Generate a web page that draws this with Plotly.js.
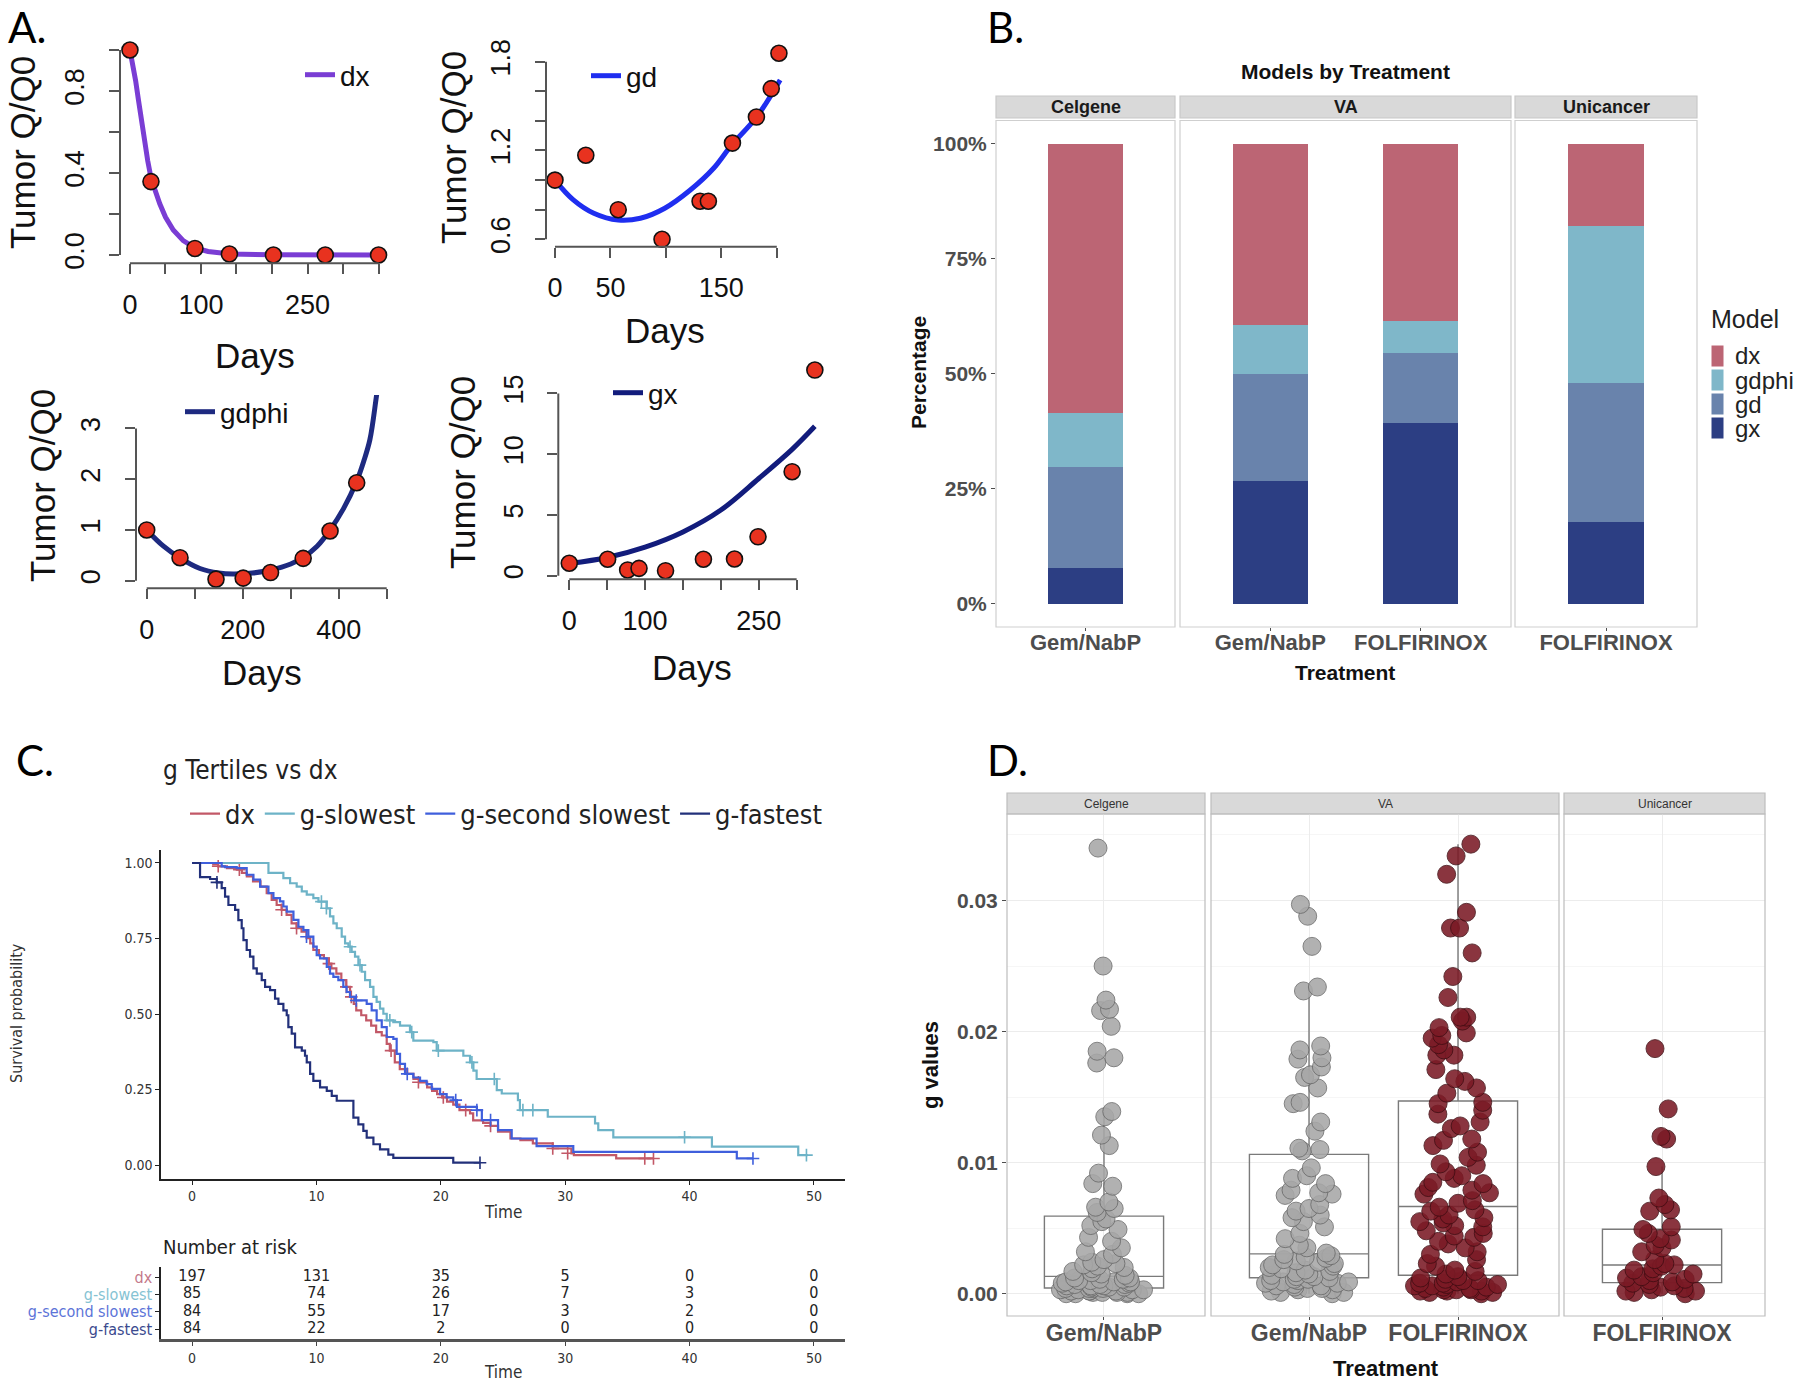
<!DOCTYPE html>
<html><head><meta charset="utf-8">
<script src="https://cdn.plot.ly/plotly-3.0.1.min.js"></script>
<style>html,body{margin:0;padding:0;background:#fff}#chart{width:1800px;height:1383px}</style>
</head><body><div id="chart"></div>
<script>
// ================= DATA =================
// ---- Panel A: tumour fits ----
const dxObsDays = [0, 29.6, 91.5, 140, 202, 275, 350];
const dxObsQ    = [1.0, 0.358, 0.032, 0.005, 0.0, 0.0, 0.0];
const dxFitDays = [0, 4, 8, 12, 16, 20, 25, 30, 36, 42, 50, 61, 75, 91.5, 110, 141, 200, 275, 350];
const dxFitQ    = [1.0, 0.93, 0.85, 0.756, 0.66, 0.57, 0.46, 0.37, 0.30, 0.25, 0.185, 0.122, 0.07, 0.035, 0.017, 0.005, 0.001, 0, 0];

const gdObsDays = [0, 27.8, 57, 96.5, 130.8, 138.3, 160, 181.6, 195, 201.9];
const gdObsQ    = [1.0, 1.168, 0.80, 0.60, 0.857, 0.857, 1.25, 1.426, 1.618, 1.857];
const gdFitDays = [0, 16, 35, 57, 77, 99, 122, 143, 159, 182, 203];
const gdFitQ    = [1.0, 0.87, 0.776, 0.73, 0.742, 0.81, 0.933, 1.08, 1.235, 1.428, 1.676];

const gdphiObsDays = [0, 69.4, 144.4, 201, 258, 326, 382, 437.5];
const gdphiObsQ    = [1.0, 0.453, 0.03, 0.05, 0.16, 0.44, 0.98, 1.93];
const gdphiFitDays = [0, 35, 69, 111, 150, 180, 220, 258, 300, 326, 355, 382, 410, 437, 452, 465, 479, 490];
const gdphiFitQ    = [1.0, 0.68, 0.45, 0.24, 0.15, 0.13, 0.15, 0.21, 0.33, 0.46, 0.68, 1.0, 1.42, 1.95, 2.35, 2.78, 3.66, 4.4];

const gxObsDays = [0, 50.6, 77, 92, 127, 177, 218, 249, 294, 324];
const gxObsQ    = [1.02, 1.35, 0.47, 0.6, 0.41, 1.35, 1.37, 3.2, 8.56, 16.93];
const gxFitDays = [0, 50, 100, 150, 200, 250, 294, 324];
const gxFitQ    = [1.0, 1.5, 2.35, 3.6, 5.4, 8.0, 10.4, 12.3];

const a1XTicks = [0, 50, 100, 150, 200, 250, 300, 350];
const a1XLabels = ['0', '', '100', '', '', '250', '', ''];
const a1YTicks = [0, 0.2, 0.4, 0.6, 0.8, 1.0];
const a1YLabels = ['0.0', '', '0.4', '', '0.8', ''];
const a2XTicks = [0, 50, 100, 150, 200];
const a2XLabels = ['0', '50', '', '150', ''];
const a2YTicks = [0.6, 0.8, 1.0, 1.2, 1.4, 1.6, 1.8];
const a2YLabels = ['0.6', '', '', '1.2', '', '', '1.8'];
const a3XTicks = [0, 100, 200, 300, 400, 500];
const a3XLabels = ['0', '', '200', '', '400', ''];
const a3YTicks = [0, 1, 2, 3];
const a3YLabels = ['0', '1', '2', '3'];
const a4XTicks = [0, 50, 100, 150, 200, 250, 300];
const a4XLabels = ['0', '', '100', '', '', '250', ''];
const a4YTicks = [0, 5, 10, 15];
const a4YLabels = ['0', '5', '10', '15'];

// ---- Panel B: model share by treatment ----
const facetB = ['Celgene', 'VA', 'VA', 'Unicancer'];
const treatB = ['Gem/NabP', 'Gem/NabP', 'FOLFIRINOX', 'FOLFIRINOX'];
const pctDx    = [58.6, 39.4, 38.6, 17.9];
const pctGdphi = [11.7, 10.7, 6.9, 34.1];
const pctGd    = [21.9, 23.1, 15.2, 30.1];
const pctGx    = [7.8, 26.8, 39.3, 17.9];
const pctTicks = [0, 25, 50, 75, 100];
const pctLabels = ['0%', '25%', '50%', '75%', '100%'];
const modelOrder = ['dx', 'gdphi', 'gd', 'gx'];

// ---- Panel C: Kaplan-Meier ----
const kmDxT = [0, 1.7, 2.1, 2.8, 3.6, 4.0, 4.4, 4.9, 5.5, 6.0, 6.4, 6.8, 7.2, 7.6, 8.0, 8.4, 8.8, 9.2, 9.5, 9.75, 10.2, 10.6, 11.0, 11.2, 11.6, 12.0, 12.4, 12.7, 13.0, 13.2, 13.6, 14.0, 14.4, 14.8, 15.25, 15.65, 15.9, 16.3, 16.7, 17.3, 17.8, 18.3, 18.9, 19.3, 19.7, 20.1, 20.5, 21.0, 21.5, 22.35, 22.6, 23.4, 24.0, 24.6, 25.6, 26.4, 27.4, 29.0, 30.5, 30.7, 34.1, 37.1];
const kmDxS = [1.0, 0.995, 0.989, 0.983, 0.978, 0.967, 0.956, 0.939, 0.922, 0.900, 0.878, 0.861, 0.845, 0.828, 0.800, 0.784, 0.773, 0.751, 0.734, 0.712, 0.695, 0.684, 0.667, 0.651, 0.634, 0.612, 0.590, 0.557, 0.534, 0.512, 0.496, 0.479, 0.462, 0.440, 0.429, 0.401, 0.379, 0.340, 0.318, 0.302, 0.285, 0.274, 0.257, 0.246, 0.235, 0.224, 0.210, 0.200, 0.182, 0.171, 0.148, 0.140, 0.130, 0.111, 0.088, 0.083, 0.072, 0.055, 0.039, 0.033, 0.022, 0.022];
const kmSlowT = [0, 6.14, 7.34, 7.88, 8.41, 8.82, 9.22, 9.75, 10.16, 10.83, 11.09, 11.36, 11.63, 12.03, 12.30, 12.57, 12.83, 13.10, 13.37, 13.64, 13.91, 14.31, 14.58, 14.84, 15.11, 15.38, 15.65, 16.18, 16.72, 17.52, 17.79, 19.40, 19.67, 21.81, 22.35, 22.62, 22.88, 24.5, 24.9, 26.2, 26.36, 28.6, 32.4, 32.66, 33.87, 41.8, 48.74, 49.5];
const kmSlowS = [1.0, 0.967, 0.950, 0.933, 0.922, 0.906, 0.895, 0.884, 0.872, 0.850, 0.823, 0.800, 0.784, 0.756, 0.734, 0.723, 0.706, 0.690, 0.662, 0.640, 0.612, 0.590, 0.557, 0.540, 0.518, 0.501, 0.479, 0.473, 0.462, 0.440, 0.412, 0.407, 0.379, 0.362, 0.340, 0.313, 0.285, 0.248, 0.237, 0.215, 0.182, 0.160, 0.138, 0.116, 0.092, 0.061, 0.033, 0.033];
const kmSecondT = [0, 2.38, 2.65, 3.59, 4.39, 4.93, 5.47, 6.14, 6.54, 7.07, 7.34, 7.61, 8.15, 8.55, 8.95, 9.35, 9.75, 10.02, 10.29, 10.83, 11.09, 11.36, 11.76, 12.16, 12.43, 12.70, 13.1, 14.04, 14.44, 14.84, 15.25, 15.65, 16.18, 16.45, 16.72, 17.12, 17.79, 18.33, 18.86, 19.27, 19.94, 20.47, 21.0, 21.3, 22.9, 23.3, 24.6, 25.7, 27.7, 30.65, 43.8, 45.1];
const kmSecondS = [1.0, 0.989, 0.986, 0.983, 0.961, 0.945, 0.922, 0.900, 0.884, 0.873, 0.856, 0.839, 0.812, 0.789, 0.778, 0.756, 0.723, 0.695, 0.684, 0.656, 0.634, 0.623, 0.612, 0.590, 0.573, 0.557, 0.545, 0.534, 0.512, 0.479, 0.457, 0.424, 0.418, 0.368, 0.335, 0.302, 0.290, 0.279, 0.268, 0.252, 0.235, 0.224, 0.215, 0.193, 0.182, 0.149, 0.116, 0.088, 0.063, 0.044, 0.022, 0.022];
const kmFastT = [0, 0.64, 1.45, 1.98, 2.38, 2.65, 2.92, 3.46, 3.72, 3.99, 4.13, 4.39, 4.66, 4.93, 5.20, 5.60, 5.87, 6.27, 6.67, 6.94, 7.34, 7.61, 7.74, 8.01, 8.28, 8.82, 9.08, 9.22, 9.49, 9.75, 10.29, 10.83, 11.23, 11.63, 12.97, 13.37, 13.77, 14.04, 14.58, 15.11, 15.78, 16.18, 21.0, 23.15];
const kmFastS = [1.0, 0.953, 0.947, 0.936, 0.917, 0.889, 0.861, 0.845, 0.811, 0.784, 0.745, 0.712, 0.690, 0.651, 0.634, 0.612, 0.590, 0.579, 0.551, 0.534, 0.512, 0.496, 0.457, 0.435, 0.390, 0.379, 0.362, 0.340, 0.302, 0.279, 0.257, 0.246, 0.229, 0.213, 0.157, 0.135, 0.113, 0.091, 0.069, 0.052, 0.035, 0.024, 0.008, 0.008];
// censor marks
const cenDxT = [2.1, 3.8, 7.2, 8.4, 11.0, 12.4, 12.8, 16.0, 18.2, 20.2, 22.0, 24.0, 29.0, 30.2, 36.4, 37.1];
const cenDxS = [0.989, 0.978, 0.845, 0.784, 0.667, 0.590, 0.557, 0.379, 0.274, 0.224, 0.182, 0.130, 0.055, 0.039, 0.022, 0.022];
const cenSlowT = [10.4, 10.8, 12.7, 13.5, 15.9, 17.66, 19.8, 22.5, 24.3, 26.6, 27.4, 39.6, 49.4];
const cenSlowS = [0.872, 0.850, 0.723, 0.662, 0.479, 0.440, 0.379, 0.340, 0.285, 0.182, 0.182, 0.092, 0.033];
const cenSecondT = [9.2, 13.2, 17.3, 21.2, 22.9, 24.0, 45.1];
const cenSecondS = [0.756, 0.545, 0.302, 0.215, 0.182, 0.149, 0.022];
const cenFastT = [2.0, 23.15];
const cenFastS = [0.936, 0.008];
const kmGroups = ['dx', 'g-slowest', 'g-second slowest', 'g-fastest'];
// number at risk
const riskTimes = [0, 10, 20, 30, 40, 50];
const riskDx = [197, 131, 35, 5, 0, 0];
const riskSlow = [85, 74, 26, 7, 3, 0];
const riskSecond = [84, 55, 17, 3, 2, 0];
const riskFast = [84, 22, 2, 0, 0, 0];
const kmTimeTicks = [0, 10, 20, 30, 40, 50];
const kmSurvTicks = [0, 0.25, 0.5, 0.75, 1.0];

// ---- Panel D: g values ----
const gCelgeneGem = [0.0340, 0.0250, 0.0224, 0.0217, 0.0216, 0.0204, 0.0185, 0.0180, 0.0176, 0.0139, 0.0135, 0.0121, 0.0113, 0.0092, 0.0084, 0.0082, 0.0070, 0.0066, 0.0065, 0.0062,
  0.0057, 0.0055, 0.0052, 0.0049, 0.0043, 0.0040, 0.0035, 0.0032, 0.0030, 0.0026, 0.0024, 0.0023, 0.0022, 0.0021, 0.0020, 0.0019, 0.0017, 0.0016, 0.0015, 0.0014,
  0.0012, 0.0012, 0.0011, 0.0011, 0.0010, 0.0010, 0.0009, 0.0009, 0.0009, 0.0008, 0.0008, 0.0007, 0.0007, 0.0007, 0.0006, 0.0006, 0.0006, 0.0005, 0.0005, 0.0005,
  0.0004, 0.0004, 0.0004, 0.0004, 0.0003, 0.0003, 0.0003, 0.0003, 0.0002, 0.0002, 0.0002, 0.0002, 0.0001, 0.0001, 0.0001, 0.0001, 0.0000, 0.0000, 0.0000, 0.0000];
const gVAGem = [0.0297, 0.0288, 0.0265, 0.0234, 0.0231, 0.0189, 0.0186, 0.0180, 0.0179, 0.0173, 0.0167, 0.0165, 0.0157, 0.0146, 0.0145, 0.0131, 0.0124, 0.0111, 0.0110, 0.0109,
  0.0096, 0.0090, 0.0088, 0.0084, 0.0079, 0.0077, 0.0076, 0.0075, 0.0068, 0.0065, 0.0063, 0.0060, 0.0058, 0.0055, 0.0051, 0.0046, 0.0042, 0.0037, 0.0035, 0.0031,
  0.0030, 0.0029, 0.0028, 0.0027, 0.0026, 0.0025, 0.0024, 0.0023, 0.0022, 0.0021, 0.0020, 0.0019, 0.0018, 0.0017, 0.0016, 0.0015, 0.0014, 0.0013, 0.0013, 0.0012,
  0.0011, 0.0011, 0.0010, 0.0010, 0.0009, 0.0009, 0.0008, 0.0008, 0.0007, 0.0006, 0.0006, 0.0005, 0.0004, 0.0004, 0.0003, 0.0003, 0.0002, 0.0001, 0.0001, 0.0000];
const gVAFolf = [0.0343, 0.0334, 0.0320, 0.0291, 0.0279, 0.0279, 0.0260, 0.0242, 0.0226, 0.0211, 0.0211, 0.0208, 0.0203, 0.0199, 0.0197, 0.0195, 0.0190, 0.0186, 0.0182, 0.0182, 0.0171, 0.0164, 0.0162, 0.0157, 0.0153,
  0.0146, 0.0145, 0.0140, 0.0137, 0.0131, 0.0128, 0.0126, 0.0118, 0.0117, 0.0113, 0.0108, 0.0104, 0.0099, 0.0098, 0.0093, 0.0090, 0.0088, 0.0085, 0.0084, 0.0081, 0.0079, 0.0077, 0.0076, 0.0071, 0.0069,
  0.0066, 0.0064, 0.0063, 0.0060, 0.0058, 0.0057, 0.0055, 0.0054, 0.0052, 0.0051, 0.0048, 0.0046, 0.0044, 0.0043, 0.0040, 0.0038, 0.0035, 0.0032, 0.0030, 0.0026, 0.0023, 0.0021, 0.0018, 0.0017, 0.0015,
  0.0013, 0.0012, 0.0011, 0.0010, 0.0010, 0.0009, 0.0008, 0.0008, 0.0007, 0.0007, 0.0006, 0.0006, 0.0005, 0.0005, 0.0004, 0.0004, 0.0003, 0.0003, 0.0003, 0.0002, 0.0002, 0.0002, 0.0001, 0.0001, 0.0000];
const gUniFolf = [0.0187, 0.0141, 0.0120, 0.0118, 0.0097, 0.0073, 0.0068, 0.0064, 0.0063, 0.0051, 0.0049, 0.0046, 0.0042, 0.0041, 0.0037, 0.0035, 0.0032, 0.0026, 0.0023, 0.0022,
  0.0021, 0.0019, 0.0018, 0.0016, 0.0015, 0.0013, 0.0012, 0.0011, 0.0010, 0.0009, 0.0008, 0.0007, 0.0006, 0.0005, 0.0004, 0.0003, 0.0002, 0.0002, 0.0001, 0.0000];
// box statistics: Celgene Gem, VA Gem, VA FOLFIRINOX, Unicancer FOLFIRINOX
const boxQ1 = [0.00044, 0.00122, 0.00141, 0.00085];
const boxMedian = [0.00132, 0.00304, 0.00665, 0.00219];
const boxQ3 = [0.00592, 0.01063, 0.0147, 0.00492];
const boxLower = [0, 0, 0, 0];
const boxUpper = [0.0140, 0.0234, 0.0343, 0.0097];
const gTicks = [0, 0.01, 0.02, 0.03];
const gLabels = ['0.00', '0.01', '0.02', '0.03'];

// ================= LAYOUT HELPERS =================
const W = 1800, H = 1383;
const X = p => p / W;
const Y = p => 1 - p / H;
const hdom = (a, b) => [X(a), X(b)];
const vdom = (top, bottom) => [Y(bottom), Y(top)];
const SANS = 'Liberation Sans, Arial, Helvetica, sans-serif';
const NARROW = 'Liberation Sans Narrow, Arial Narrow, DejaVu Sans Condensed, Liberation Sans, sans-serif';
const LABEL = 'Lato, Open Sans, Noto Sans, sans-serif';

function rAxis(d, range, vals, texts, anchor, isY) {
  return {domain: d, range: range, anchor: anchor, tickmode: 'array', tickvals: vals, ticktext: texts,
    ticks: 'outside', ticklen: 10, tickwidth: 2, tickcolor: '#555', showline: false, showgrid: false,
    zeroline: false, tickfont: {family: SANS, size: 27, color: '#111'}, tickangle: isY ? -90 : 0,
    ticklabelstandoff: isY ? 14 : 7, fixedrange: true};
}

const traces = [];
const shapes = [];
const annotations = [];
const ann = (text, x, y, opts) => annotations.push(Object.assign({text: text, x: X(x), y: Y(y), xref: 'paper', yref: 'paper', showarrow: false, xanchor: 'center', yanchor: 'middle'}, opts || {}));

// ================= PANEL A =================
const aPanels = [
  {xa: 'x', ya: 'y', fitX: dxFitDays, fitY: dxFitQ, obsX: dxObsDays, obsY: dxObsQ, name: 'dx', color: '#7a3dd4', lg: 'legend', shape: 'linear', xt: a1XTicks, yt: a1YTicks},
  {xa: 'x2', ya: 'y2', fitX: gdFitDays, fitY: gdFitQ, obsX: gdObsDays, obsY: gdObsQ, name: 'gd', color: '#1f2ef0', lg: 'legend2', shape: 'spline', xt: a2XTicks, yt: a2YTicks},
  {xa: 'x3', ya: 'y3', fitX: gdphiFitDays, fitY: gdphiFitQ, obsX: gdphiObsDays, obsY: gdphiObsQ, name: 'gdphi', color: '#1e2a80', lg: 'legend3', shape: 'spline', xt: a3XTicks, yt: a3YTicks},
  {xa: 'x4', ya: 'y4', fitX: gxFitDays, fitY: gxFitQ, obsX: gxObsDays, obsY: gxObsQ, name: 'gx', color: '#121c7c', lg: 'legend4', shape: 'spline', xt: a4XTicks, yt: a4YTicks}
];
aPanels.forEach(p => {
  traces.push({type: 'scatter', mode: 'lines', x: p.fitX, y: p.fitY, xaxis: p.xa, yaxis: p.ya, name: p.name,
    line: {color: p.color, width: 5, shape: p.shape, smoothing: 1.0}, legend: p.lg, showlegend: true, hoverinfo: 'skip'});
  traces.push({type: 'scatter', mode: 'markers', x: p.obsX, y: p.obsY, xaxis: p.xa, yaxis: p.ya, showlegend: false,
    cliponaxis: false, marker: {size: 16, color: '#e8321f', line: {color: '#111', width: 1.6}}, hoverinfo: 'skip'});
  const xs = p.xt, ys = p.yt;
  shapes.push({type: 'line', xref: p.xa, yref: p.ya + ' domain', x0: xs[0], x1: xs[xs.length - 1], y0: 0, y1: 0, line: {color: '#555', width: 2}});
  shapes.push({type: 'line', xref: p.xa + ' domain', yref: p.ya, x0: 0, x1: 0, y0: ys[0], y1: ys[ys.length - 1], line: {color: '#555', width: 2}});
});

// ================= PANEL B =================
const bFacets = [['Celgene', 'x5'], ['VA', 'x6'], ['Unicancer', 'x7']];
const bColors = {dx: '#bc6574', gdphi: '#7fb7c9', gd: '#6983ac', gx: '#2c3e83'};
const bSeries = [['gx', pctGx], ['gd', pctGd], ['gdphi', pctGdphi], ['dx', pctDx]];
bFacets.forEach(([f, ax]) => {
  const idx = facetB.map((v, i) => v === f ? i : -1).filter(i => i >= 0);
  bSeries.forEach(([name, vals]) => {
    traces.push({type: 'bar', x: idx.map(i => treatB[i]), y: idx.map(i => vals[i]), xaxis: ax, yaxis: 'y5', name: name,
      width: 0.5, marker: {color: bColors[name], line: {width: 0}}, showlegend: false, hoverinfo: 'skip'});
  });
  shapes.push({type: 'rect', xref: ax + ' domain', yref: 'y5 domain', x0: 0, x1: 1, y0: 0, y1: 1, line: {color: '#cfcfcf', width: 1.2}, fillcolor: 'rgba(0,0,0,0)'});
  shapes.push({type: 'rect', xref: ax + ' domain', yref: 'paper', x0: 0, x1: 1, y0: Y(118), y1: Y(96), line: {color: '#c8c8c8', width: 1.2}, fillcolor: '#d9d9d9', layer: 'below'});
});
ann('Celgene', 1085.5, 107, {font: {family: SANS, size: 18, color: '#1a1a1a', weight: 'bold'}});
ann('VA', 1345.5, 107, {font: {family: SANS, size: 18, color: '#1a1a1a', weight: 'bold'}});
ann('Unicancer', 1606, 107, {font: {family: SANS, size: 18, color: '#1a1a1a', weight: 'bold'}});
ann('Models by Treatment', 1345, 71, {font: {family: SANS, size: 21, color: '#111', weight: 'bold'}});
ann('Percentage', 918, 373, {textangle: -90, font: {family: SANS, size: 21, color: '#111', weight: 'bold'}});
ann('Treatment', 1345, 673, {font: {family: SANS, size: 21, color: '#111', weight: 'bold'}});
// Model legend (ggplot style keys)
ann('Model', 1709, 319, {xanchor: 'left', font: {family: SANS, size: 25, color: '#222'}});
modelOrder.forEach((m, i) => {
  const cy = 356 + i * 24;
  shapes.push({type: 'rect', xref: 'paper', yref: 'paper', x0: X(1711), x1: X(1724), y0: Y(cy + 11), y1: Y(cy - 11), fillcolor: bColors[m], line: {color: '#ffffff', width: 1}});
  ann(m, 1733, cy, {xanchor: 'left', font: {family: SANS, size: 24, color: '#222'}});
});

// ================= PANEL C =================
const kmSets = [
  ['dx', kmDxT, kmDxS, cenDxT, cenDxS, '#c25867'],
  ['g-slowest', kmSlowT, kmSlowS, cenSlowT, cenSlowS, '#6db3c7'],
  ['g-second slowest', kmSecondT, kmSecondS, cenSecondT, cenSecondS, '#3f5fdc'],
  ['g-fastest', kmFastT, kmFastS, cenFastT, cenFastS, '#22307a']
];
kmSets.forEach(([name, t, s, ct, cs, color]) => {
  traces.push({type: 'scatter', mode: 'lines', x: t, y: s, xaxis: 'x8', yaxis: 'y8', name: name,
    line: {color: color, width: 2.2, shape: 'hv'}, legend: 'legend6', showlegend: true, hoverinfo: 'skip'});
  traces.push({type: 'scatter', mode: 'markers', x: ct, y: cs, xaxis: 'x8', yaxis: 'y8', showlegend: false,
    marker: {symbol: 'cross-thin', size: 9, color: color, line: {color: color, width: 1.6}}, hoverinfo: 'skip'});
});
const riskRows = [[kmGroups[0], riskDx], [kmGroups[1], riskSlow], [kmGroups[2], riskSecond], [kmGroups[3], riskFast]];
riskRows.forEach(([g, vals]) => {
  traces.push({type: 'scatter', mode: 'text', x: riskTimes, y: riskTimes.map(() => g), text: vals.map(String),
    xaxis: 'x9', yaxis: 'y9', showlegend: false, cliponaxis: false, hoverinfo: 'skip',
    textfont: {family: NARROW, size: 16, color: '#222'}});
});
const riskLabelColors = ['#c4788a', '#86c3d3', '#5c74d8', '#3b4a8e'];
ann('g Tertiles vs dx', 161, 770, {xanchor: 'left', font: {family: NARROW, size: 26, color: '#222'}});
ann('Survival probability', 16, 1013, {textangle: -90, font: {family: NARROW, size: 16, color: '#333'}});
ann('Time', 503, 1212, {font: {family: NARROW, size: 17, color: '#333'}});
ann('Number at risk', 161, 1247, {xanchor: 'left', font: {family: NARROW, size: 20, color: '#222'}});
ann('Time', 503, 1372, {font: {family: NARROW, size: 17, color: '#333'}});

// ================= PANEL D =================
const dGroups = [
  ['x10', 'Gem/NabP', gCelgeneGem, '#a7a7a7', '#666666'],
  ['x11', 'Gem/NabP', gVAGem, '#a7a7a7', '#666666'],
  ['x11', 'FOLFIRINOX', gVAFolf, '#7b1a25', '#3e0c12'],
  ['x12', 'FOLFIRINOX', gUniFolf, '#7b1a25', '#3e0c12']
];
dGroups.forEach(([ax, cat, vals, fill, edge], i) => {
  traces.push({type: 'box', x: [cat], q1: [boxQ1[i]], median: [boxMedian[i]], q3: [boxQ3[i]],
    lowerfence: [boxLower[i]], upperfence: [boxUpper[i]], xaxis: ax, yaxis: 'y10', width: 0.8,
    boxpoints: false, whiskerwidth: 0, fillcolor: 'rgba(255,255,255,0)', line: {color: '#7a7a7a', width: 1.4},
    showlegend: false, hoverinfo: 'skip'});
  traces.push({type: 'box', x: vals.map(() => cat), y: vals, xaxis: ax, yaxis: 'y10', width: 0.8,
    boxpoints: 'all', jitter: 0.75, pointpos: 0, whiskerwidth: 0, fillcolor: 'rgba(0,0,0,0)',
    line: {color: 'rgba(0,0,0,0)', width: 0},
    marker: {size: 18, color: fill, opacity: 0.88, line: {color: edge, width: 0.9}},
    showlegend: false, hoverinfo: 'skip'});
});
[['x10', 1106, 'Celgene'], ['x11', 1385, 'VA'], ['x12', 1664.5, 'Unicancer']].forEach(([ax, cx, label]) => {
  shapes.push({type: 'rect', xref: ax + ' domain', yref: 'y10 domain', x0: 0, x1: 1, y0: 0, y1: 1, line: {color: '#bdbdbd', width: 1.2}, fillcolor: 'rgba(0,0,0,0)'});
  shapes.push({type: 'rect', xref: ax + ' domain', yref: 'paper', x0: 0, x1: 1, y0: Y(814), y1: Y(793), line: {color: '#bdbdbd', width: 1.2}, fillcolor: '#d9d9d9', layer: 'below'});
  ann(label, cx, 803.5, {font: {family: SANS, size: 12, color: '#333'}});
});
ann('g values', 930, 1065, {textangle: -90, font: {family: SANS, size: 22, color: '#111', weight: 'bold'}});
ann('Treatment', 1386, 1368, {font: {family: SANS, size: 22, color: '#111', weight: 'bold'}});

// panel letters
ann('A.', 6, 27, {xanchor: 'left', font: {family: LABEL, size: 42, color: '#000'}});
ann('B.', 985, 27, {xanchor: 'left', font: {family: LABEL, size: 42, color: '#000'}});
ann('C.', 14, 760, {xanchor: 'left', font: {family: LABEL, size: 42, color: '#000'}});
ann('D.', 985, 760, {xanchor: 'left', font: {family: LABEL, size: 42, color: '#000'}});

// Panel A axis titles
[[22, 153, 255, 355], [453, 147, 665, 330], [43, 486, 262, 672], [462, 473, 692, 668]].forEach(([yx, yy, xx, xy]) => {
  ann('Tumor Q/Q0', yx, yy, {textangle: -90, font: {family: SANS, size: 35, color: '#111'}});
  ann('Days', xx, xy, {font: {family: SANS, size: 35, color: '#111'}});
});

// ================= AXES =================
const catAxis = (d, cats, range, anchor, size) => ({domain: d, type: 'category', categoryarray: cats, categoryorder: 'array', range: range,
  anchor: anchor, ticks: 'outside', ticklen: 3, tickcolor: '#4d4d4d', showgrid: false, zeroline: false, showline: false,
  ticklabelstandoff: -7,
  tickfont: {family: SANS, size: size, color: '#4d4d4d', weight: 'bold'}, fixedrange: true});

const layout = {
  width: W, height: H, margin: {l: 0, r: 0, t: 0, b: 0}, paper_bgcolor: '#fff', plot_bgcolor: '#fff',
  showlegend: true, hovermode: false, barmode: 'stack', boxmode: 'overlay',
  xaxis: rAxis(hdom(120, 388.5), [-14, 364], a1XTicks, a1XLabels, 'y', false),
  yaxis: rAxis(vdom(41.8, 263.2), [-0.04, 1.04], a1YTicks, a1YLabels, 'x', true),
  xaxis2: rAxis(hdom(546, 786.8), [-8.1, 209], a2XTicks, a2XLabels, 'y2', false),
  yaxis2: rAxis(vdom(45.4, 246.7), [0.55, 1.91], a2YTicks, a2YLabels, 'x2', true),
  xaxis3: rAxis(hdom(136, 396.3), [-22.3, 520], a3XTicks, a3XLabels, 'y3', false),
  yaxis3: rAxis(vdom(395, 588.3), [-0.15, 3.66], a3YTicks, a3YLabels, 'x3', true),
  xaxis4: rAxis(hdom(558.3, 824.7), [-14.5, 337], a4XTicks, a4XLabels, 'y4', false),
  yaxis4: rAxis(vdom(361.9, 579.3), [-0.3, 17.6], a4YTicks, a4YLabels, 'x4', true),
  // B
  xaxis5: catAxis(hdom(996, 1175), ['Gem/NabP'], [-0.6, 0.6], 'y5', 22),
  xaxis6: catAxis(hdom(1180, 1511), ['Gem/NabP', 'FOLFIRINOX'], [-0.6, 1.6], 'y5', 22),
  xaxis7: catAxis(hdom(1515, 1697), ['FOLFIRINOX'], [-0.6, 0.6], 'y5', 22),
  yaxis5: {domain: vdom(120.5, 627), range: [-5, 105], anchor: 'x5', tickmode: 'array', tickvals: pctTicks, ticktext: pctLabels,
    ticks: 'outside', ticklen: 4, tickcolor: '#4d4d4d', showgrid: false, zeroline: false, showline: false,
    tickfont: {family: SANS, size: 21, color: '#4d4d4d', weight: 'bold'}, fixedrange: true},
  // C
  xaxis8: {domain: hdom(161, 845), range: [-2.5, 52.5], anchor: 'y8', tickmode: 'array', tickvals: kmTimeTicks,
    ticks: 'outside', ticklen: 4, tickcolor: '#222', showline: true, linecolor: '#222', linewidth: 1.6, showgrid: false, zeroline: false,
    tickfont: {family: NARROW, size: 14, color: '#333'}, fixedrange: true},
  yaxis8: {domain: vdom(850, 1179), range: [-0.046, 1.043], anchor: 'x8', tickmode: 'array', tickvals: kmSurvTicks, tickformat: '.2f',
    ticks: 'outside', ticklen: 4, tickcolor: '#222', showline: true, linecolor: '#222', linewidth: 1.6, showgrid: false, zeroline: false,
    tickfont: {family: NARROW, size: 14, color: '#333'}, fixedrange: true},
  xaxis9: {domain: hdom(161, 845), range: [-2.5, 52.5], anchor: 'y9', tickmode: 'array', tickvals: kmTimeTicks,
    ticks: 'outside', ticklen: 4, tickcolor: '#444', showline: true, linecolor: '#555', linewidth: 2.4, showgrid: false, zeroline: false,
    tickfont: {family: NARROW, size: 14, color: '#333'}, fixedrange: true},
  yaxis9: {domain: vdom(1266.6, 1339.4), type: 'category', categoryorder: 'array', categoryarray: kmGroups.slice().reverse(),
    range: [-0.6, 3.6], anchor: 'x9', tickmode: 'array', tickvals: kmGroups,
    ticktext: kmGroups.map((g, i) => '<span style="color:' + riskLabelColors[i] + '">' + g + '</span>'),
    ticks: 'outside', ticklen: 4, tickcolor: '#222', showline: true, linecolor: '#222', linewidth: 1.6, showgrid: false, zeroline: false,
    tickfont: {family: NARROW, size: 16, color: '#333'}, fixedrange: true},
  // D
  xaxis10: Object.assign(catAxis(hdom(1007, 1205), ['Gem/NabP'], [-0.651, 0.678], 'y10', 23), {showgrid: true, gridcolor: '#ececec'}),
  xaxis11: Object.assign(catAxis(hdom(1211, 1559), ['Gem/NabP', 'FOLFIRINOX'], [-0.658, 1.678], 'y10', 23), {showgrid: true, gridcolor: '#ececec'}),
  xaxis12: Object.assign(catAxis(hdom(1564, 1765), ['FOLFIRINOX'], [-0.658, 0.691], 'y10', 23), {showgrid: true, gridcolor: '#ececec'}),
  yaxis10: {domain: vdom(814, 1316), range: [-0.0017, 0.0366], anchor: 'x10', tickmode: 'array', tickvals: gTicks, ticktext: gLabels,
    ticks: 'outside', ticklen: 4, tickcolor: '#4d4d4d', showgrid: true, gridcolor: '#ececec', zeroline: false, showline: false,
    minor: {dtick: 0.005, tick0: 0, showgrid: true, gridcolor: '#f6f6f6', ticks: ''},
    tickfont: {family: SANS, size: 21, color: '#4d4d4d', weight: 'bold'}, fixedrange: true},
  // legends
  legend:  {x: X(300), y: Y(75), xanchor: 'left', yanchor: 'middle', bgcolor: 'rgba(0,0,0,0)', font: {family: SANS, size: 28, color: '#111'}},
  legend2: {x: X(586), y: Y(76), xanchor: 'left', yanchor: 'middle', bgcolor: 'rgba(0,0,0,0)', font: {family: SANS, size: 28, color: '#111'}},
  legend3: {x: X(180), y: Y(412), xanchor: 'left', yanchor: 'middle', bgcolor: 'rgba(0,0,0,0)', font: {family: SANS, size: 28, color: '#111'}},
  legend4: {x: X(608), y: Y(393), xanchor: 'left', yanchor: 'middle', bgcolor: 'rgba(0,0,0,0)', font: {family: SANS, size: 28, color: '#111'}},
  legend6: {x: X(185), y: Y(814), xanchor: 'left', yanchor: 'middle', orientation: 'h', bgcolor: 'rgba(0,0,0,0)',
    font: {family: NARROW, size: 27, color: '#222'}},
  shapes: shapes,
  annotations: annotations
};

Plotly.newPlot('chart', traces, layout, {staticPlot: true, displayModeBar: false});
</script>
</body></html>
